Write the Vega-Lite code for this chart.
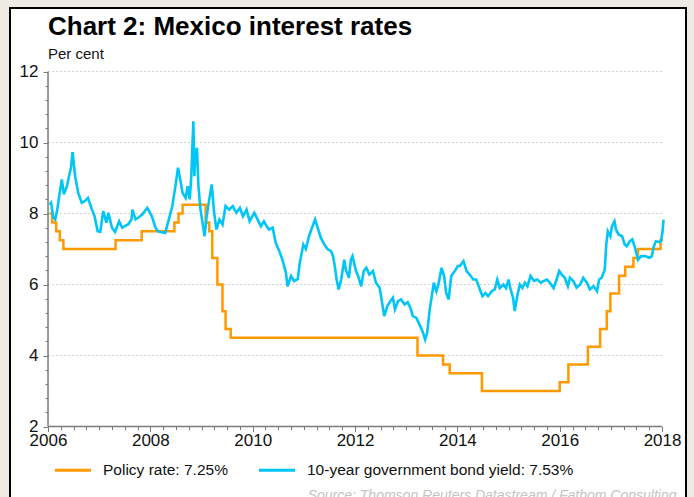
{
  "$schema": "https://vega.github.io/schema/vega-lite/v6.json",
  "width": 676,
  "height": 491,
  "autosize": {"type": "none"},
  "padding": {"left": 10, "top": 8, "right": 8, "bottom": -2},
  "background": "#EDEBE3",
  "config": {
    "view": {"fill": "white", "stroke": "black", "strokeWidth": 2},
    "font": "Liberation Sans"
  },
  "title": {
    "text": "Chart 2: Mexico interest rates",
    "subtitle": "Per cent",
    "anchor": "start",
    "frame": "group",
    "orient": "top",
    "offset": -54,
    "dx": 38,
    "font": "Liberation Sans",
    "fontSize": 26,
    "fontWeight": "bold",
    "color": "#000000",
    "subtitleFont": "Liberation Sans",
    "subtitleFontSize": 15,
    "subtitleColor": "#111111",
    "subtitlePadding": 7
  },
  "datasets": {
    "grid": [{"g": 4}, {"g": 6}, {"g": 8}, {"g": 10}, {"g": 12}],
    "policy": [
      {"year": 2006.03, "rate": 8.0}, {"year": 2006.08, "rate": 7.75}, {"year": 2006.16, "rate": 7.5},
      {"year": 2006.23, "rate": 7.25}, {"year": 2006.30, "rate": 7.0}, {"year": 2007.32, "rate": 7.25},
      {"year": 2007.83, "rate": 7.5}, {"year": 2008.47, "rate": 7.75}, {"year": 2008.55, "rate": 8.0},
      {"year": 2008.63, "rate": 8.25}, {"year": 2009.08, "rate": 7.75}, {"year": 2009.15, "rate": 7.5},
      {"year": 2009.21, "rate": 6.75}, {"year": 2009.31, "rate": 6.0}, {"year": 2009.41, "rate": 5.25},
      {"year": 2009.47, "rate": 4.75}, {"year": 2009.57, "rate": 4.5}, {"year": 2013.22, "rate": 4.0},
      {"year": 2013.72, "rate": 3.75}, {"year": 2013.85, "rate": 3.5}, {"year": 2014.48, "rate": 3.0},
      {"year": 2016.00, "rate": 3.25}, {"year": 2016.17, "rate": 3.75}, {"year": 2016.55, "rate": 4.25},
      {"year": 2016.79, "rate": 4.75}, {"year": 2016.92, "rate": 5.25}, {"year": 2016.99, "rate": 5.75},
      {"year": 2017.16, "rate": 6.25}, {"year": 2017.28, "rate": 6.5}, {"year": 2017.44, "rate": 6.75},
      {"year": 2017.53, "rate": 7.0}, {"year": 2017.97, "rate": 7.25}, {"year": 2018.02, "rate": 7.25}
    ],
    "bond": [
      {"year": 2006.03, "rate": 8.25}, {"year": 2006.06, "rate": 8.3}, {"year": 2006.10, "rate": 7.9}, {"year": 2006.14, "rate": 7.83},
      {"year": 2006.18, "rate": 8.1}, {"year": 2006.22, "rate": 8.5}, {"year": 2006.27, "rate": 8.96}, {"year": 2006.31, "rate": 8.54},
      {"year": 2006.37, "rate": 8.77}, {"year": 2006.41, "rate": 9.05}, {"year": 2006.45, "rate": 9.3}, {"year": 2006.48, "rate": 9.73},
      {"year": 2006.53, "rate": 9.05}, {"year": 2006.59, "rate": 8.58}, {"year": 2006.66, "rate": 8.3}, {"year": 2006.72, "rate": 8.35},
      {"year": 2006.78, "rate": 8.44}, {"year": 2006.86, "rate": 8.11}, {"year": 2006.91, "rate": 7.92}, {"year": 2006.97, "rate": 7.5},
      {"year": 2007.02, "rate": 7.48}, {"year": 2007.08, "rate": 8.07}, {"year": 2007.14, "rate": 7.74}, {"year": 2007.18, "rate": 8.02},
      {"year": 2007.25, "rate": 7.6}, {"year": 2007.31, "rate": 7.48}, {"year": 2007.39, "rate": 7.78}, {"year": 2007.45, "rate": 7.6},
      {"year": 2007.51, "rate": 7.65}, {"year": 2007.57, "rate": 7.7}, {"year": 2007.63, "rate": 7.83}, {"year": 2007.65, "rate": 8.11},
      {"year": 2007.71, "rate": 7.83}, {"year": 2007.78, "rate": 7.9}, {"year": 2007.84, "rate": 7.97}, {"year": 2007.94, "rate": 8.16},
      {"year": 2008.03, "rate": 7.92}, {"year": 2008.10, "rate": 7.6}, {"year": 2008.15, "rate": 7.5}, {"year": 2008.20, "rate": 7.48},
      {"year": 2008.29, "rate": 7.45}, {"year": 2008.36, "rate": 7.83}, {"year": 2008.43, "rate": 8.21}, {"year": 2008.49, "rate": 8.77},
      {"year": 2008.54, "rate": 9.29}, {"year": 2008.59, "rate": 8.91}, {"year": 2008.63, "rate": 8.58}, {"year": 2008.69, "rate": 8.44},
      {"year": 2008.73, "rate": 8.77}, {"year": 2008.77, "rate": 8.4}, {"year": 2008.80, "rate": 9.05}, {"year": 2008.84, "rate": 10.6},
      {"year": 2008.86, "rate": 9.05}, {"year": 2008.88, "rate": 9.71}, {"year": 2008.91, "rate": 9.85}, {"year": 2008.94, "rate": 8.77},
      {"year": 2008.98, "rate": 8.11}, {"year": 2009.03, "rate": 7.64}, {"year": 2009.06, "rate": 7.36}, {"year": 2009.10, "rate": 7.92},
      {"year": 2009.14, "rate": 8.3}, {"year": 2009.20, "rate": 8.82}, {"year": 2009.24, "rate": 8.11}, {"year": 2009.29, "rate": 7.55},
      {"year": 2009.35, "rate": 7.83}, {"year": 2009.41, "rate": 7.69}, {"year": 2009.47, "rate": 8.21}, {"year": 2009.54, "rate": 8.11},
      {"year": 2009.61, "rate": 8.21}, {"year": 2009.68, "rate": 8.02}, {"year": 2009.75, "rate": 8.16}, {"year": 2009.81, "rate": 7.92},
      {"year": 2009.88, "rate": 8.11}, {"year": 2009.94, "rate": 7.78}, {"year": 2010.03, "rate": 8.02}, {"year": 2010.09, "rate": 7.85},
      {"year": 2010.16, "rate": 7.64}, {"year": 2010.22, "rate": 7.78}, {"year": 2010.27, "rate": 7.65}, {"year": 2010.32, "rate": 7.55},
      {"year": 2010.39, "rate": 7.6}, {"year": 2010.45, "rate": 7.17}, {"year": 2010.52, "rate": 6.94}, {"year": 2010.58, "rate": 6.7},
      {"year": 2010.65, "rate": 6.33}, {"year": 2010.68, "rate": 5.95}, {"year": 2010.75, "rate": 6.24}, {"year": 2010.81, "rate": 6.1},
      {"year": 2010.88, "rate": 6.15}, {"year": 2010.92, "rate": 6.61}, {"year": 2010.99, "rate": 7.13}, {"year": 2011.04, "rate": 7.0},
      {"year": 2011.10, "rate": 7.36}, {"year": 2011.17, "rate": 7.64}, {"year": 2011.22, "rate": 7.83}, {"year": 2011.27, "rate": 7.6},
      {"year": 2011.33, "rate": 7.32}, {"year": 2011.40, "rate": 7.13}, {"year": 2011.46, "rate": 7.0}, {"year": 2011.53, "rate": 6.94},
      {"year": 2011.57, "rate": 6.8}, {"year": 2011.61, "rate": 6.47}, {"year": 2011.64, "rate": 6.14}, {"year": 2011.68, "rate": 5.86},
      {"year": 2011.73, "rate": 6.14}, {"year": 2011.79, "rate": 6.7}, {"year": 2011.82, "rate": 6.42}, {"year": 2011.88, "rate": 6.19},
      {"year": 2011.92, "rate": 6.7}, {"year": 2011.95, "rate": 6.8}, {"year": 2012.02, "rate": 6.38}, {"year": 2012.06, "rate": 6.24},
      {"year": 2012.12, "rate": 5.95}, {"year": 2012.17, "rate": 6.38}, {"year": 2012.22, "rate": 6.47}, {"year": 2012.28, "rate": 6.28},
      {"year": 2012.35, "rate": 6.38}, {"year": 2012.41, "rate": 6.05}, {"year": 2012.48, "rate": 5.91}, {"year": 2012.52, "rate": 5.58},
      {"year": 2012.57, "rate": 5.11}, {"year": 2012.63, "rate": 5.39}, {"year": 2012.69, "rate": 5.53}, {"year": 2012.74, "rate": 5.63},
      {"year": 2012.78, "rate": 5.3}, {"year": 2012.84, "rate": 5.53}, {"year": 2012.90, "rate": 5.58}, {"year": 2012.97, "rate": 5.44},
      {"year": 2013.03, "rate": 5.5}, {"year": 2013.08, "rate": 5.35}, {"year": 2013.13, "rate": 5.11}, {"year": 2013.20, "rate": 5.06},
      {"year": 2013.26, "rate": 4.87}, {"year": 2013.33, "rate": 4.64}, {"year": 2013.37, "rate": 4.45}, {"year": 2013.41, "rate": 4.64},
      {"year": 2013.46, "rate": 5.3}, {"year": 2013.49, "rate": 5.58}, {"year": 2013.54, "rate": 6.05}, {"year": 2013.59, "rate": 5.81},
      {"year": 2013.63, "rate": 6.0}, {"year": 2013.69, "rate": 6.47}, {"year": 2013.74, "rate": 6.24}, {"year": 2013.78, "rate": 5.77},
      {"year": 2013.83, "rate": 5.58}, {"year": 2013.88, "rate": 6.24}, {"year": 2013.95, "rate": 6.38}, {"year": 2014.01, "rate": 6.52},
      {"year": 2014.05, "rate": 6.52}, {"year": 2014.12, "rate": 6.66}, {"year": 2014.18, "rate": 6.38}, {"year": 2014.24, "rate": 6.28},
      {"year": 2014.31, "rate": 6.14}, {"year": 2014.37, "rate": 6.14}, {"year": 2014.44, "rate": 5.86}, {"year": 2014.49, "rate": 5.67},
      {"year": 2014.55, "rate": 5.76}, {"year": 2014.60, "rate": 5.67}, {"year": 2014.67, "rate": 5.81}, {"year": 2014.73, "rate": 5.86},
      {"year": 2014.78, "rate": 6.14}, {"year": 2014.83, "rate": 5.9}, {"year": 2014.90, "rate": 6.0}, {"year": 2014.95, "rate": 5.9},
      {"year": 2015.00, "rate": 6.14}, {"year": 2015.04, "rate": 5.86}, {"year": 2015.09, "rate": 5.62}, {"year": 2015.12, "rate": 5.25},
      {"year": 2015.17, "rate": 5.67}, {"year": 2015.22, "rate": 6.0}, {"year": 2015.27, "rate": 5.9}, {"year": 2015.32, "rate": 6.05},
      {"year": 2015.37, "rate": 5.95}, {"year": 2015.43, "rate": 6.24}, {"year": 2015.50, "rate": 6.1}, {"year": 2015.56, "rate": 6.14},
      {"year": 2015.63, "rate": 6.05}, {"year": 2015.69, "rate": 6.1}, {"year": 2015.75, "rate": 6.14}, {"year": 2015.81, "rate": 6.05},
      {"year": 2015.88, "rate": 5.9}, {"year": 2015.94, "rate": 6.14}, {"year": 2015.99, "rate": 6.38}, {"year": 2016.04, "rate": 6.28},
      {"year": 2016.10, "rate": 6.19}, {"year": 2016.16, "rate": 5.95}, {"year": 2016.20, "rate": 6.19}, {"year": 2016.27, "rate": 6.09},
      {"year": 2016.33, "rate": 5.91}, {"year": 2016.40, "rate": 6.0}, {"year": 2016.46, "rate": 6.19}, {"year": 2016.53, "rate": 6.05},
      {"year": 2016.59, "rate": 5.86}, {"year": 2016.66, "rate": 5.95}, {"year": 2016.73, "rate": 5.81}, {"year": 2016.77, "rate": 6.14},
      {"year": 2016.82, "rate": 6.19}, {"year": 2016.88, "rate": 6.42}, {"year": 2016.91, "rate": 7.13}, {"year": 2016.94, "rate": 7.5},
      {"year": 2016.99, "rate": 7.36}, {"year": 2017.02, "rate": 7.64}, {"year": 2017.07, "rate": 7.78}, {"year": 2017.10, "rate": 7.55},
      {"year": 2017.15, "rate": 7.41}, {"year": 2017.22, "rate": 7.36}, {"year": 2017.27, "rate": 7.13}, {"year": 2017.31, "rate": 7.08},
      {"year": 2017.37, "rate": 7.22}, {"year": 2017.42, "rate": 7.27}, {"year": 2017.48, "rate": 6.99}, {"year": 2017.53, "rate": 6.7},
      {"year": 2017.59, "rate": 6.8}, {"year": 2017.67, "rate": 6.8}, {"year": 2017.75, "rate": 6.75}, {"year": 2017.80, "rate": 6.8},
      {"year": 2017.84, "rate": 7.08}, {"year": 2017.88, "rate": 7.22}, {"year": 2017.94, "rate": 7.2}, {"year": 2017.98, "rate": 7.22},
      {"year": 2018.01, "rate": 7.5}, {"year": 2018.03, "rate": 7.83}
    ]
  },
  "resolve": {"axis": {"x": "independent", "y": "independent"}},
  "layer": [
    {
      "data": {"name": "grid"},
      "mark": {"type": "rule", "color": "#D4D4D4", "strokeWidth": 1, "strokeDash": [2, 2]},
      "encoding": {
        "x": {"datum": 2006, "type": "quantitative", "axis": null,
              "scale": {"domain": [2005.257, 2018.468], "nice": false, "zero": false}},
        "x2": {"datum": 2018},
        "y": {"field": "g", "type": "quantitative", "axis": null,
              "scale": {"domain": [-0.042, 13.789], "nice": false, "zero": false}}
      }
    },
    {
      "data": {"values": [{}]},
      "mark": {"type": "rule", "color": "#7A7A7A", "strokeWidth": 1.5},
      "encoding": {
        "x": {"datum": 2006, "type": "quantitative", "axis": null},
        "x2": {"datum": 2018},
        "y": {"datum": 2, "type": "quantitative", "axis": null}
      }
    },
    {
      "data": {"values": [{}]},
      "mark": {"type": "rule", "color": "#7A7A7A", "strokeWidth": 1.5},
      "encoding": {
        "x": {"datum": 2006, "type": "quantitative", "axis": null},
        "y": {"datum": 2, "type": "quantitative", "axis": null},
        "y2": {"datum": 12}
      }
    },
    {
      "data": {"name": "policy"},
      "mark": {"type": "line", "interpolate": "step-after", "strokeWidth": 2.5},
      "encoding": {
        "x": {"field": "year", "type": "quantitative",
              "axis": {"orient": "bottom", "values": [2006, 2008, 2010, 2012, 2014, 2016, 2018], "format": "d",
                       "offset": -72.5, "domain": false, "grid": false, "ticks": true, "tickSize": 5,
                       "tickColor": "#7A7A7A", "tickWidth": 1, "labelFontSize": 17, "labelColor": "#111111",
                       "labelFont": "Liberation Sans", "labelPadding": 1, "labelFlush": false, "labelOverlap": false,
                       "title": "Source: Thomson Reuters Datastream / Fathom Consulting",
                       "titleFont": "Liberation Sans", "titleFontSize": 14, "titleFontStyle": "italic",
                       "titleFontWeight": "normal", "titleColor": "#C4C4C4", "titleAnchor": "end",
                       "titleAlign": "right", "titleX": 666, "titlePadding": 40, "titleBaseline": "top"}},
        "y": {"field": "rate", "type": "quantitative",
              "axis": {"orient": "left", "values": [2, 4, 6, 8, 10, 12], "offset": -38, "domain": false, "grid": false,
                       "tickSize": 5, "tickColor": "#7A7A7A", "tickWidth": 1, "labelFontSize": 17,
                       "labelColor": "#111111", "labelFont": "Liberation Sans", "labelPadding": 5,
                       "labelFlush": false, "labelOverlap": false, "title": null}},
        "color": {"datum": "Policy rate: 7.25%", "type": "nominal",
                  "scale": {"domain": ["Policy rate: 7.25%", "10-year government bond yield: 7.53%"],
                            "range": ["#FF9900", "#00C5F7"]},
                  "legend": {"orient": "none", "legendX": 43, "legendY": 442, "direction": "horizontal",
                             "title": null, "symbolType": "stroke", "symbolStrokeWidth": 3, "symbolSize": 1300,
                             "labelFontSize": 15.5, "labelFont": "Liberation Sans", "labelColor": "#111111",
                             "labelOffset": 10, "columnPadding": 24, "padding": 0, "labelLimit": 400}}
      }
    },
    {
      "data": {"name": "bond"},
      "mark": {"type": "line", "strokeWidth": 2.6},
      "encoding": {
        "x": {"field": "year", "type": "quantitative",
              "axis": {"orient": "bottom", "values": [2006.25, 2006.5, 2006.75, 2007, 2007.25, 2007.5, 2007.75, 2008.25, 2008.5, 2008.75, 2009, 2009.25, 2009.5, 2009.75, 2010.25, 2010.5, 2010.75, 2011, 2011.25, 2011.5, 2011.75, 2012.25, 2012.5, 2012.75, 2013, 2013.25, 2013.5, 2013.75, 2014.25, 2014.5, 2014.75, 2015, 2015.25, 2015.5, 2015.75, 2016.25, 2016.5, 2016.75, 2017, 2017.25, 2017.5, 2017.75],
                       "offset": -72.5, "domain": false, "grid": false, "labels": false, "tickSize": 3,
                       "tickColor": "#7A7A7A", "tickWidth": 1, "title": null}},
        "y": {"field": "rate", "type": "quantitative",
              "axis": {"orient": "left", "values": [2.4, 2.8, 3.2, 3.6, 4.4, 4.8, 5.2, 5.6, 6.4, 6.8, 7.2, 7.6, 8.4, 8.8, 9.2, 9.6, 10.4, 10.8, 11.2, 11.6],
                       "offset": -38, "domain": false, "grid": false, "labels": false, "tickSize": 3,
                       "tickColor": "#7A7A7A", "tickWidth": 1, "title": null}},
        "color": {"datum": "10-year government bond yield: 7.53%", "type": "nominal"}
      }
    }
  ]
}
